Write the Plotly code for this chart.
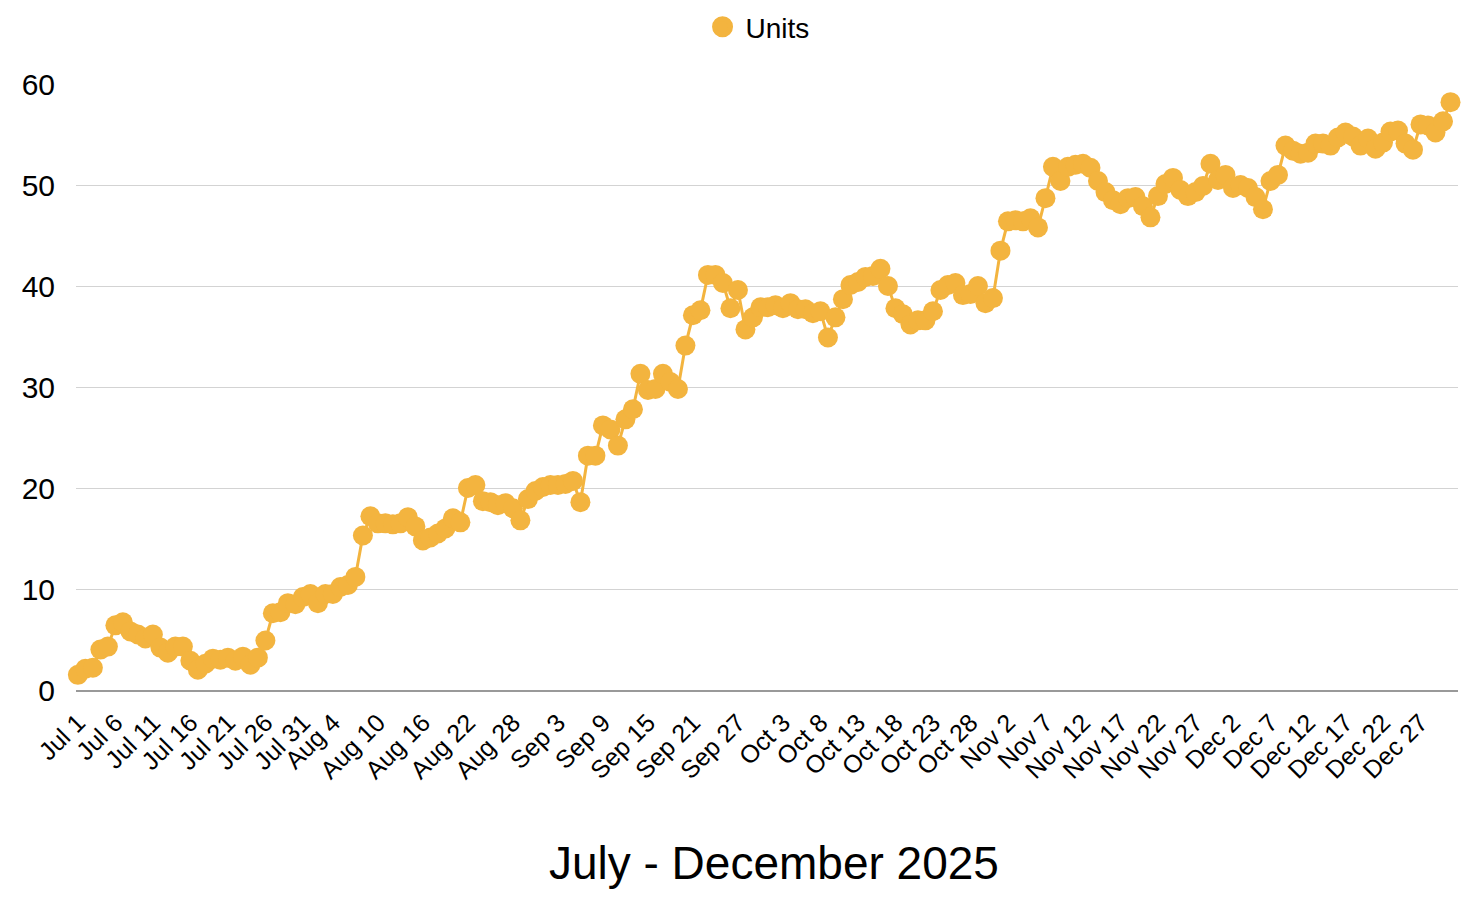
import pandas as pd
import plotly.graph_objects as go

# ---- data ----
jul = [1.5, 2.1, 2.2, 4.0, 4.3, 6.4, 6.7, 5.8, 5.5, 5.1, 5.5, 4.2, 3.7, 4.3, 4.3, 2.9,
       2.0, 2.6, 3.1, 3.0, 3.2, 2.9, 3.3, 2.5, 3.2, 4.9, 7.6, 7.7, 8.6, 8.5, 9.2]
aug = [9.5, 8.6, 9.5, 9.5, 10.2, 10.4, 11.2, 15.3, 17.2, 16.5, 16.5, 16.4, 16.5, 17.1,
       16.2, 14.8, 15.1, 15.5, 16.0, 17.0, 16.6, 20.0, 20.3, 18.7, 18.6, 18.3, 18.5, 18.0,
       16.8, 18.9, 19.7]
sep = [20.1, 20.3, 20.3, 20.4, 20.7, 18.6, 23.2, 23.2, 26.2, 25.8, 24.2, 26.8, 27.8, 31.3,
       29.7, 29.8, 31.3, 30.5, 29.8, 34.1, 37.1, 37.6, 41.1, 41.1, 40.3, 37.8, 39.6, 35.7,
       36.9, 37.9]
oct_ = [37.9, 38.1, 37.8, 38.3, 37.7, 37.7, 37.3, 37.5, 34.9, 36.9, 38.7, 40.1, 40.4, 40.9,
        41.0, 41.7, 40.0, 37.8, 37.2, 36.2, 36.6, 36.6, 37.5, 39.6, 40.1, 40.3, 39.1, 39.2,
        40.0, 38.3, 38.8]
nov = [43.5, 46.4, 46.5, 46.4, 46.7, 45.8, 48.7, 51.8, 50.4, 51.8, 52.0, 52.1, 51.7, 50.4,
       49.3, 48.5, 48.1, 48.7, 48.8, 47.9, 46.8, 48.9, 50.1, 50.7, 49.5, 48.9, 49.3, 49.9,
       52.1, 50.5]
dec = [51.0, 49.7, 50.0, 49.7, 48.8, 47.6, 50.4, 51.0, 53.9, 53.4, 53.1, 53.2, 54.1, 54.1,
       53.9, 54.7, 55.2, 54.8, 53.9, 54.6, 53.6, 54.2, 55.3, 55.4, 54.1, 53.5, 56.0, 55.9,
       55.2, 56.3, 58.2]

units = jul + aug + sep + oct_ + nov + dec
dates = pd.date_range("2025-07-01", "2025-12-31", freq="D")

tick_dates = ["2025-07-01", "2025-07-06", "2025-07-11", "2025-07-16", "2025-07-21",
              "2025-07-26", "2025-07-31", "2025-08-04", "2025-08-10", "2025-08-16",
              "2025-08-22", "2025-08-28", "2025-09-03", "2025-09-09", "2025-09-15",
              "2025-09-21", "2025-09-27", "2025-10-03", "2025-10-08", "2025-10-13",
              "2025-10-18", "2025-10-23", "2025-10-28", "2025-11-02", "2025-11-07",
              "2025-11-12", "2025-11-17", "2025-11-22", "2025-11-27", "2025-12-02",
              "2025-12-07", "2025-12-12", "2025-12-17", "2025-12-22", "2025-12-27"]
tick_labels = ["Jul 1", "Jul 6", "Jul 11", "Jul 16", "Jul 21", "Jul 26", "Jul 31",
               "Aug 4", "Aug 10", "Aug 16", "Aug 22", "Aug 28", "Sep 3", "Sep 9",
               "Sep 15", "Sep 21", "Sep 27", "Oct 3", "Oct 8", "Oct 13", "Oct 18",
               "Oct 23", "Oct 28", "Nov 2", "Nov 7", "Nov 12", "Nov 17", "Nov 22",
               "Nov 27", "Dec 2", "Dec 7", "Dec 12", "Dec 17", "Dec 22", "Dec 27"]
y_ticks = [0, 10, 20, 30, 40, 50, 60]

series_name = "Units"
title_text = "July - December 2025"
color = "#F3B43F"
FONT = "Liberation Sans, Arial, Helvetica, sans-serif"

fig = go.Figure()
fig.add_trace(go.Scatter(
    x=dates, y=units, mode="lines+markers", name=series_name, showlegend=False,
    line=dict(color=color, width=3),
    marker=dict(color=color, size=20),
    cliponaxis=False,
))
# legend entry (circle only)
fig.add_trace(go.Scatter(
    x=[None], y=[None], mode="markers", name=series_name, showlegend=True,
    marker=dict(color=color, size=16, line=dict(color=color, width=5)),
))

# the page body adds an 8px offset, so the figure is sized to fit the window
fig.update_layout(
    width=1466, height=898,
    margin=dict(l=68, r=16, t=76, b=216, autoexpand=False),
    paper_bgcolor="white", plot_bgcolor="white",
    font=dict(family=FONT, color="#000000"),
    showlegend=True,
    legend=dict(orientation="h", x=0.4928, xanchor="center", xref="paper",
                y=0.9788, yref="container", yanchor="middle",
                font=dict(size=28, family=FONT), itemwidth=36),
    title=dict(text=title_text, x=0.505, xref="paper", xanchor="center",
               y=0.0476, yref="container", yanchor="middle",
               font=dict(size=46, family=FONT, color="#000000")),
)

fig.update_xaxes(
    type="date", automargin=False,
    range=["2025-06-30 18:00", "2026-01-01 00:00"],
    tickmode="array", tickvals=tick_dates, ticktext=tick_labels,
    tickangle=-45, tickfont=dict(size=25, family=FONT, color="#000000"),
    showgrid=False, zeroline=False,
    showline=True, linecolor="#999999", linewidth=2,
    ticks="outside", ticklen=6, tickcolor="rgba(0,0,0,0)",
)
fig.update_yaxes(
    range=[0, 60], tickmode="array", tickvals=y_ticks, automargin=False,
    tickfont=dict(size=30, family=FONT, color="#000000"),
    showgrid=True, gridcolor="#d3d3d3", gridwidth=1,
    zeroline=False, showline=False,
    ticks="outside", ticklen=14, tickcolor="rgba(0,0,0,0)",
)

fig.write_html("out.html")
